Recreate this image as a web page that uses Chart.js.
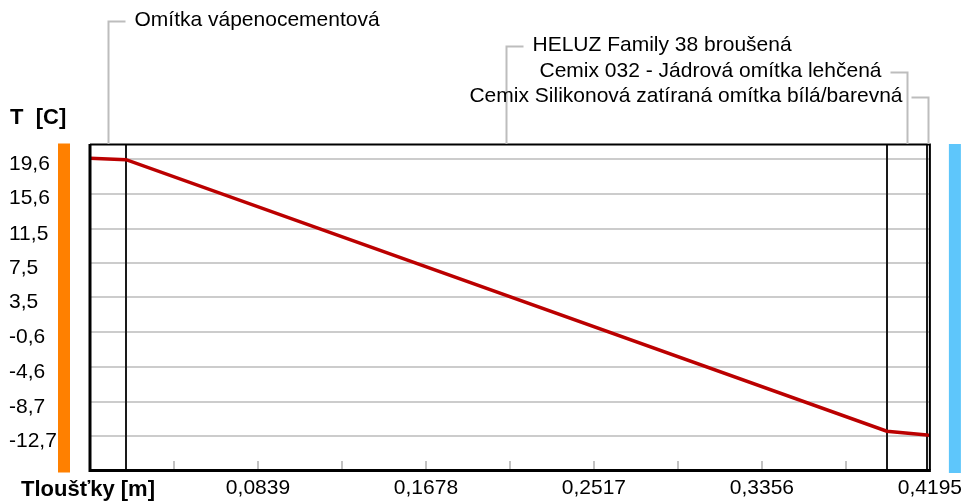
<!DOCTYPE html>
<html>
<head>
<meta charset="utf-8">
<script src="https://cdn.jsdelivr.net/npm/chart.js@4.4.1/dist/chart.umd.min.js"></script>
<style>
  html, body { margin: 0; padding: 0; background: #fff; }
  canvas { display: block; }
</style>
</head>
<body>
<canvas id="c" width="968" height="503"></canvas>
<script>
// Wall layers, thickness in metres (inside -> outside)
const layerNames = [
  'Omítka vápenocementová',
  'HELUZ Family 38 broušená',
  'Cemix 032 - Jádrová omítka lehčená',
  'Cemix Silikonová zatíraná omítka bílá/barevná',
];
const layerThickness = [0.018, 0.38, 0.02, 0.0015];

// Temperature profile read at the layer boundaries
const profileX = [0, 0.018, 0.398, 0.418, 0.4195];
const profileT = [19.72, 19.55, -12.12, -12.56, -12.58];

// Axis ticks
const yTicks = [19.6, 15.6, 11.5, 7.5, 3.5, -0.6, -4.6, -8.7, -12.7];
const xTicks = [0.0839, 0.1678, 0.2517, 0.3356, 0.4195];
const xMinorTicks = [0.04195, 0.12585, 0.20975, 0.29365, 0.37755];

// Leader label rows (px from top) and which side of the leader the text sits
const leaderRows = [21, 46, 72, 97];
const leaderSide = ['right', 'right', 'left', 'left'];

const FONT = "'Liberation Sans', Arial, sans-serif";
const comma = (s) => s.replace('.', ',');

const overlay = {
  id: 'overlay',
  beforeDatasetsDraw(chart) {
    const { ctx, chartArea: a, scales: { x } } = chart;
    ctx.save();
    // small ticks standing on the bottom border
    ctx.strokeStyle = '#c2c2c2';
    ctx.lineWidth = 2;
    for (const v of [...xMinorTicks, ...xTicks.slice(0, -1)]) {
      const px = Math.round(x.getPixelForValue(v));
      ctx.beginPath();
      ctx.moveTo(px, a.bottom - 9);
      ctx.lineTo(px, a.bottom);
      ctx.stroke();
    }
    // layer boundaries
    ctx.strokeStyle = '#1a1a1a';
    ctx.lineWidth = 2;
    let acc = 0;
    for (let i = 0; i < layerThickness.length - 1; i += 1) {
      acc += layerThickness[i];
      const px = Math.round(x.getPixelForValue(acc));
      ctx.beginPath();
      ctx.moveTo(px, a.top);
      ctx.lineTo(px, a.bottom);
      ctx.stroke();
    }
    ctx.restore();
  },
  afterDraw(chart) {
    const { ctx, chartArea: a, scales: { x } } = chart;
    ctx.save();

    // frame
    ctx.strokeStyle = '#000';
    ctx.lineWidth = 3;
    ctx.beginPath();
    ctx.moveTo(a.left, a.top);
    ctx.lineTo(a.left, a.bottom + 2);
    ctx.moveTo(a.left - 1.5, a.bottom + 0.5);
    ctx.lineTo(a.right + 1, a.bottom + 0.5);
    ctx.stroke();
    ctx.lineWidth = 2;
    ctx.beginPath();
    ctx.moveTo(a.left, a.top + 0.5);
    ctx.lineTo(a.right + 1, a.top + 0.5);
    ctx.moveTo(a.right, a.top);
    ctx.lineTo(a.right, a.bottom);
    ctx.stroke();

    // side bars: inside (orange) and outside (blue)
    ctx.fillStyle = '#ff8000';
    ctx.fillRect(a.left - 32, a.top - 0.5, 12, a.bottom - a.top + 3);
    ctx.fillStyle = '#5ec6fb';
    ctx.fillRect(a.right + 19, a.top, 12, a.bottom - a.top + 3);

    // axis titles
    ctx.fillStyle = '#000';
    ctx.font = `bold 22px ${FONT}`;
    ctx.textBaseline = 'middle';
    ctx.textAlign = 'left';
    ctx.fillText('T  [C]', 10, 118);
    ctx.fillText('Tloušťky [m]', 21, 490);

    // layer leaders and names
    ctx.font = `21px ${FONT}`;
    let start = 0;
    layerNames.forEach((name, i) => {
      const mid = x.getPixelForValue(start + layerThickness[i] / 2);
      start += layerThickness[i];
      const px = Math.round(mid) + 0.5;
      const y = leaderRows[i] + 0.5;
      const dir = leaderSide[i] === 'right' ? 1 : -1;
      ctx.strokeStyle = '#bdbdbd';
      ctx.lineWidth = 2;
      ctx.beginPath();
      ctx.moveTo(px, a.top);
      ctx.lineTo(px, y);
      ctx.lineTo(px + dir * 17, y);
      ctx.stroke();
      ctx.fillStyle = '#000';
      ctx.textAlign = dir > 0 ? 'left' : 'right';
      ctx.fillText(name, px + dir * 26, y - 1);
    });
    ctx.restore();
  },
};

new Chart(document.getElementById('c'), {
  type: 'line',
  data: {
    datasets: [{
      data: profileX.map((v, i) => ({ x: v, y: profileT[i] })),
      borderColor: '#bb0000',
      borderWidth: 3.5,
      pointRadius: 0,
      tension: 0,
      fill: false,
    }],
  },
  options: {
    responsive: false,
    animation: false,
    devicePixelRatio: 1,
    layout: { padding: { top: 144, right: 36.5, left: 9, bottom: 0 } },
    plugins: { legend: { display: false }, tooltip: { enabled: false } },
    scales: {
      x: {
        type: 'linear',
        min: 0,
        max: 0.4195,
        afterFit: (s) => { s.height = 33; },
        afterBuildTicks: (s) => { s.ticks = xTicks.map((v) => ({ value: v })); },
        grid: { display: false, drawTicks: false },
        border: { display: false },
        ticks: {
          autoSkip: false,
          maxRotation: 0,
          padding: 6,
          color: '#000',
          font: { family: FONT, size: 21 },
          callback: (v) => comma(Number(v).toFixed(4)),
        },
      },
      y: {
        type: 'linear',
        min: -16.64,
        max: 21.38,
        afterFit: (s) => { s.width = 81; },
        afterBuildTicks: (s) => { s.ticks = yTicks.map((v) => ({ value: v })); },
        grid: { color: '#cccccc', lineWidth: 2, drawTicks: false },
        border: { display: false },
        ticks: {
          crossAlign: 'far',
          padding: 0,
          labelOffset: 5,
          color: '#000',
          font: { family: FONT, size: 21 },
          callback: (v) => comma(String(v)),
        },
      },
    },
  },
  plugins: [overlay],
});
</script>
</body>
</html>
